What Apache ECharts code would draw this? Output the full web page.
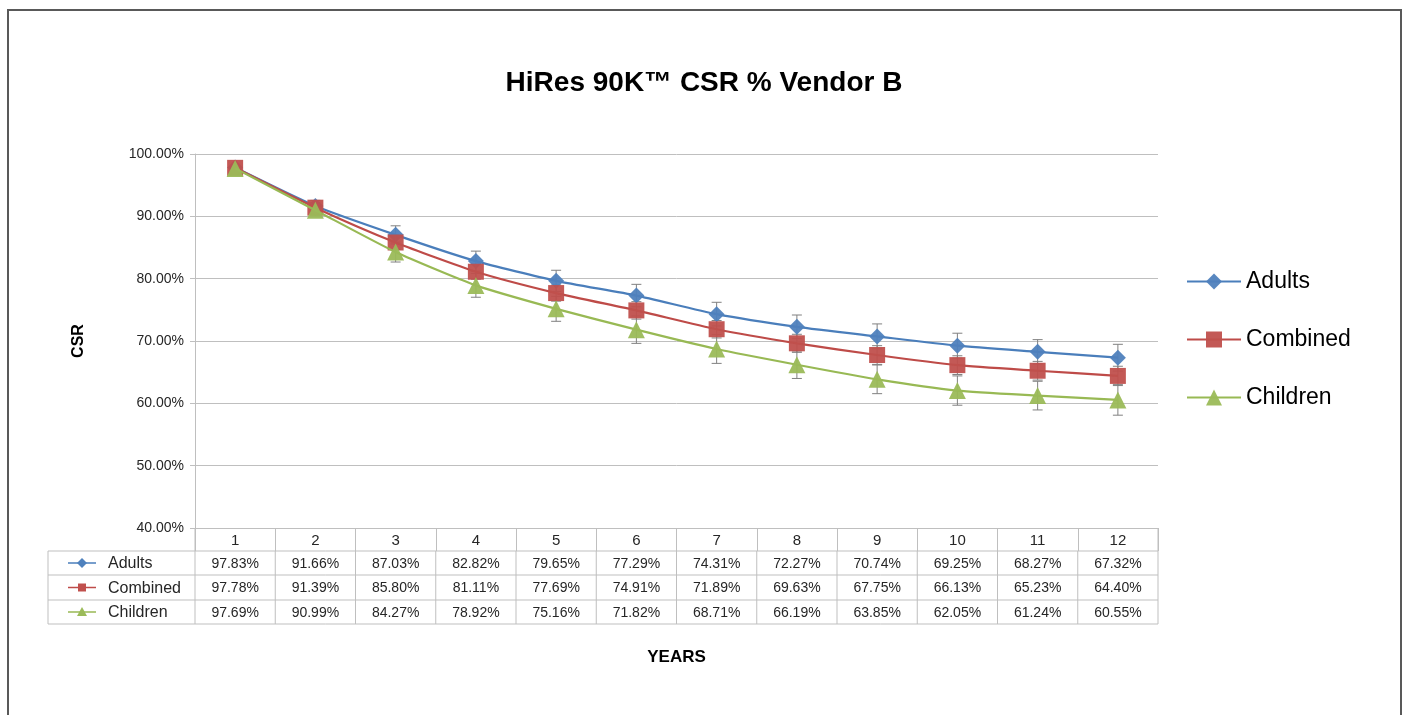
<!DOCTYPE html>
<html>
<head>
<meta charset="utf-8">
<script src="https://cdn.jsdelivr.net/npm/echarts@6/dist/echarts.min.js"></script>
<style>
  html, body { margin: 0; padding: 0; background: #fff; }
  #chart { width: 1408px; height: 715px; }
</style>
</head>
<body>
<div id="chart"></div>
<script>
const years = ['1', '2', '3', '4', '5', '6', '7', '8', '9', '10', '11', '12']
const adults = [97.83, 91.66, 87.03, 82.82, 79.65, 77.29, 74.31, 72.27, 70.74, 69.25, 68.27, 67.32]
const combined = [97.78, 91.39, 85.80, 81.11, 77.69, 74.91, 71.89, 69.63, 67.75, 66.13, 65.23, 64.40]
const children = [97.69, 90.99, 84.27, 78.92, 75.16, 71.82, 68.71, 66.19, 63.85, 62.05, 61.24, 60.55]
// error bar half-widths
const adultsErr = [0.3, 0.9, 1.45, 1.6, 1.7, 1.8, 1.9, 1.9, 2.0, 2.0, 1.95, 2.15]
const combinedErr = [0.3, 0.8, 1.1, 1.2, 1.3, 1.4, 1.4, 1.45, 1.5, 1.5, 1.5, 1.55]
const childrenErr = [0.3, 0.9, 1.6, 1.9, 2.0, 2.2, 2.3, 2.2, 2.3, 2.35, 2.3, 2.45]
const yTicks = { min: 40, max: 100, step: 10 }

const FONT = '"Liberation Sans", Arial, sans-serif'
const TXT = '#262626'
const GRID_LINE = '#bfbfbf'

const series = [
  { name: 'Adults', data: adults, err: adultsErr, color: '#4f81bd', line: '#4a7ebb', symbol: 'diamond', size: 16 },
  { name: 'Combined', data: combined, err: combinedErr, color: '#c0504d', line: '#be4b48', symbol: 'rect', size: 16 },
  { name: 'Children', data: children, err: childrenErr, color: '#9bbb59', line: '#98b954', symbol: 'triangle', size: 17 },
]

const chart = echarts.init(document.getElementById('chart'))

function errorSeries(s) {
  return {
    type: 'custom',
    name: s.name + ' err',
    z: 1,
    silent: true,
    data: s.data.map((v, i) => [i, v - s.err[i], v + s.err[i]]),
    renderItem: (params, api) => {
      const lo = api.coord([api.value(0), api.value(1)])
      const hi = api.coord([api.value(0), api.value(2)])
      const x = lo[0], cap = 5
      const style = { stroke: '#808080', lineWidth: 1 }
      return {
        type: 'group',
        children: [
          { type: 'line', shape: { x1: x, y1: lo[1], x2: x, y2: hi[1] }, style },
          { type: 'line', shape: { x1: x - cap, y1: lo[1], x2: x + cap, y2: lo[1] }, style },
          { type: 'line', shape: { x1: x - cap, y1: hi[1], x2: x + cap, y2: hi[1] }, style },
        ],
      }
    },
  }
}

chart.setOption({
  animation: false,
  title: {
    text: 'HiRes 90K™ CSR % Vendor B',
    left: 'center',
    top: 64,
    textStyle: { fontFamily: FONT, fontSize: 28, fontWeight: 'bold', color: '#000' },
  },
  legend: {
    orient: 'vertical',
    left: 1186,
    top: 270,
    padding: 0,
    itemWidth: 54,
    itemHeight: 20,
    itemGap: 35,
    data: series.map(s => s.name),
    textStyle: { fontFamily: FONT, fontSize: 23, color: '#000' },
  },
  grid: { left: 195, right: 250, top: 154, bottom: 187 },
  xAxis: {
    type: 'category',
    data: years,
    name: 'YEARS',
    nameLocation: 'middle',
    nameGap: 121,
    nameTextStyle: { fontFamily: FONT, fontSize: 17, fontWeight: 'bold', color: '#000' },
    axisLine: { lineStyle: { color: GRID_LINE } },
    axisTick: { show: true, length: 23, lineStyle: { color: GRID_LINE } },
    axisLabel: { fontFamily: FONT, fontSize: 15, color: TXT, margin: 5 },
  },
  yAxis: {
    type: 'value',
    min: yTicks.min,
    max: yTicks.max,
    interval: yTicks.step,
    name: 'CSR',
    nameLocation: 'middle',
    nameGap: 108,
    nameRotate: 90,
    nameTextStyle: { fontFamily: FONT, fontSize: 16, fontWeight: 'bold', color: '#000' },
    axisLine: { show: true, lineStyle: { color: GRID_LINE } },
    axisTick: { show: true, length: 5, lineStyle: { color: GRID_LINE } },
    axisLabel: { fontFamily: FONT, fontSize: 14, color: TXT, margin: 11, formatter: v => v.toFixed(2) + '%' },
    splitLine: { lineStyle: { color: GRID_LINE, width: 1 } },
  },
  series: [
    ...series.map(errorSeries),
    ...series.map((s, i) => ({
      type: 'line',
      name: s.name,
      data: s.data,
      z: 3 + i,
      smooth: 0.2,
      symbol: s.symbol,
      symbolSize: s.size,
      showSymbol: true,
      lineStyle: { color: s.line, width: 2.2 },
      itemStyle: { color: s.color, opacity: 0.95 },
    })),
  ],
})

// data table under the axis, columns taken from the category axis
function drawTable() {
  const gridBottom = 528
  const rowTops = [551, 575, 600, 624]
  const tableLeft = 48
  const x0 = chart.convertToPixel({ xAxisIndex: 0 }, 0)
  const x1 = chart.convertToPixel({ xAxisIndex: 0 }, 1)
  const band = x1 - x0
  const plotRight = x0 + band * (years.length - 0.5)
  const lineStyle = { stroke: GRID_LINE, lineWidth: 1 }
  const els = []

  rowTops.forEach(y => {
    els.push({ type: 'line', shape: { x1: tableLeft, y1: y, x2: plotRight, y2: y }, style: lineStyle })
  })
  els.push({ type: 'line', shape: { x1: tableLeft, y1: rowTops[0], x2: tableLeft, y2: rowTops[3] }, style: lineStyle })
  for (let i = 0; i <= years.length; i++) {
    const x = x0 + band * (i - 0.5)
    els.push({ type: 'line', shape: { x1: x, y1: i === 0 || i === years.length ? gridBottom : rowTops[0], x2: x, y2: rowTops[3] }, style: lineStyle })
  }

  series.forEach((s, r) => {
    const cy = (rowTops[r] + rowTops[r + 1]) / 2
    // key
    els.push({ type: 'line', shape: { x1: 68, y1: cy, x2: 96, y2: cy }, style: { stroke: s.line, lineWidth: 1.5 } })
    let mark
    if (s.symbol === 'diamond') {
      mark = { type: 'polygon', shape: { points: [[82, cy - 5], [87, cy], [82, cy + 5], [77, cy]] } }
    } else if (s.symbol === 'rect') {
      mark = { type: 'rect', shape: { x: 78, y: cy - 4, width: 8, height: 8 } }
    } else {
      mark = { type: 'polygon', shape: { points: [[82, cy - 5], [87, cy + 4], [77, cy + 4]] } }
    }
    mark.style = { fill: s.color }
    els.push(mark)
    els.push({
      type: 'text',
      style: { x: 108, y: cy + 1, text: s.name, fontFamily: FONT, fontSize: 16, fill: TXT, verticalAlign: 'middle' },
    })
    s.data.forEach((v, i) => {
      els.push({
        type: 'text',
        style: {
          x: chart.convertToPixel({ xAxisIndex: 0 }, i),
          y: cy + 1,
          text: v.toFixed(2) + '%',
          fontFamily: FONT,
          fontSize: 14,
          fill: TXT,
          align: 'center',
          verticalAlign: 'middle',
        },
      })
    })
  })

  // outer frame
  els.push({
    type: 'rect',
    shape: { x: 8, y: 10, width: 1393, height: 720 },
    style: { fill: 'none', stroke: '#595959', lineWidth: 2 },
    z: -1,
  })

  chart.setOption({ graphic: [{ type: 'group', silent: true, children: els }] })
}

drawTable()
window.addEventListener('resize', () => chart.resize())
</script>
</body>
</html>
